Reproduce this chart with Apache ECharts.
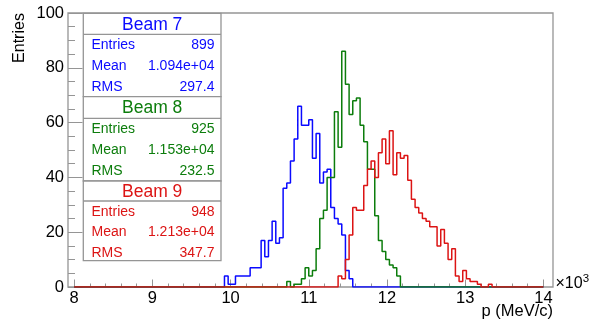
<!DOCTYPE html>
<html>
<head>
<meta charset="utf-8">
<script src="https://cdn.jsdelivr.net/npm/echarts@6/dist/echarts.min.js"></script>
<style>
  html, body { margin: 0; padding: 0; background: #ffffff; }
  #chart { width: 595px; height: 325px; }
</style>
</head>
<body>
<div id="chart"></div>
<script>
// Momentum spectra of three beams, 128 bins of 46.875 MeV/c between 8 and 14 (x10^3 MeV/c)
const BIN_LO = 8.0;
const BIN_WIDTH = 0.046875;
const N_BINS = 128;

// bin contents, starting at the given bin index
const beam7FirstBin = 41;
const beam7Counts = [4, 1, 1, 4, 4, 4, 4, 7, 7, 7, 17, 11, 17, 24, 16, 18, 36, 38, 46, 54,
                     66, 59, 59, 61, 47, 56, 38, 42, 43, 29, 25, 23, 19, 6, 3];
const beam8FirstBin = 58;
const beam8Counts = [2, 0, 1, 1, 3, 7, 4, 6, 14, 25, 28, 40, 40, 64, 51, 86, 74, 63, 68, 69,
                     59, 53, 43, 43, 26, 17, 13, 10, 8, 7, 4];
const beam9FirstBin = 72;
const beam9Counts = [4, 3, 10, 19, 29, 28, 28, 37, 43, 46, 40, 49, 54, 45, 57, 41, 49, 47, 48, 39,
                     32, 29, 27, 25, 24, 22, 22, 15, 21, 16, 10, 14, 4, 2, 6, 3, 2, 2, 1, 0, 0, 1];

// statistics boxes
const beamNames = ['Beam 7', 'Beam 8', 'Beam 9'];
const statLabels = ['Entries', 'Mean', 'RMS'];
const entriesText = ['899', '925', '948'];
const meanText = ['1.094e+04', '1.153e+04', '1.213e+04'];
const rmsText = ['297.4', '232.5', '347.7'];

// axis ticks
const xMajorTicks = [8, 9, 10, 11, 12, 13, 14];
const xMinorTicks = [8.2, 8.4, 8.6, 8.8, 9.2, 9.4, 9.6, 9.8, 10.2, 10.4, 10.6, 10.8,
                     11.2, 11.4, 11.6, 11.8, 12.2, 12.4, 12.6, 12.8, 13.2, 13.4, 13.6, 13.8];
const X_MIN = 7.921;
const X_MAX = 14.123;

const COLORS = ['#0a0aff', '#0c7d0c', '#dc1414'];
const FRAME = '#959595';
const FONT = '"Liberation Sans", Arial, Helvetica, sans-serif';

function histPoints(firstBin, counts) {
  const pts = [];
  for (let i = 0; i < N_BINS; i++) {
    const k = i - firstBin;
    const c = (k >= 0 && k < counts.length) ? counts[k] : 0;
    pts.push([BIN_LO + i * BIN_WIDTH, c]);
  }
  pts.push([BIN_LO + N_BINS * BIN_WIDTH, 0]);
  return pts;
}

const hists = [
  histPoints(beam7FirstBin, beam7Counts),
  histPoints(beam8FirstBin, beam8Counts),
  histPoints(beam9FirstBin, beam9Counts)
];

// stat boxes layout
const boxLeft = 83.3, boxRight = 221;
const boxTops = [13.3, 96.7, 181];
const boxBottoms = [96.7, 181, 260.7];
const headerLines = [34.3, 118.3, 201];

const graphics = [];
for (let b = 0; b < 3; b++) {
  const top = boxTops[b], bottom = boxBottoms[b], hl = headerLines[b];
  graphics.push({
    type: 'rect', z: 100,
    shape: { x: boxLeft, y: top, width: boxRight - boxLeft, height: bottom - top },
    style: { fill: '#ffffff', stroke: FRAME, lineWidth: 1.3 }
  });
  graphics.push({
    type: 'line', z: 101,
    shape: { x1: boxLeft, y1: hl, x2: boxRight, y2: hl },
    style: { stroke: FRAME, lineWidth: 1.3 }
  });
  graphics.push({
    type: 'text', z: 102, x: (boxLeft + boxRight) / 2, y: (top + hl) / 2 + 1,
    style: { text: beamNames[b], fill: COLORS[b], font: '17.5px ' + FONT, align: 'center', verticalAlign: 'middle' }
  });
  const values = [entriesText[b], meanText[b], rmsText[b]];
  for (let r = 0; r < 3; r++) {
    const y = hl + 10.7 + r * 20.9;
    graphics.push({
      type: 'text', z: 102, x: 91.5, y: y,
      style: { text: statLabels[r], fill: COLORS[b], font: '14px ' + FONT, align: 'left', verticalAlign: 'middle' }
    });
    graphics.push({
      type: 'text', z: 102, x: 214.5, y: y,
      style: { text: values[r], fill: COLORS[b], font: '14px ' + FONT, align: 'right', verticalAlign: 'middle' }
    });
  }
}

// axis titles and exponent
graphics.push({
  type: 'text', z: 102, x: 20, y: 38, rotation: Math.PI / 2,
  style: { text: 'Entries', fill: '#000', font: '16px ' + FONT, align: 'center', verticalAlign: 'middle' }
});
graphics.push({
  type: 'text', z: 102, x: 553, y: 311,
  style: { text: 'p (MeV/c)', fill: '#000', font: '16.5px ' + FONT, align: 'right', verticalAlign: 'middle' }
});
graphics.push({
  type: 'text', z: 102, x: 555.5, y: 284,
  style: {
    text: '×10{sup|3}', fill: '#000', font: '16px ' + FONT, align: 'left', verticalAlign: 'middle',
    rich: { sup: { fontSize: 11.5, fontFamily: FONT, fill: '#000', verticalAlign: 'top', padding: [0, 0, 10, 0] } }
  }
});

const chart = echarts.init(document.getElementById('chart'), null, { renderer: 'canvas' });
chart.setOption({
  animation: false,
  backgroundColor: '#ffffff',
  grid: {
    left: 68, right: 42, top: 13, bottom: 38,
    show: true, borderColor: FRAME, borderWidth: 1.3, backgroundColor: 'transparent'
  },
  xAxis: [
    {
      type: 'value', min: X_MIN, max: X_MAX, position: 'bottom',
      axisLine: { show: false }, splitLine: { show: false },
      axisTick: { show: true, inside: true, length: 7.5, customValues: xMajorTicks, lineStyle: { color: FRAME, width: 1 } },
      axisLabel: { show: true, customValues: xMajorTicks, margin: 3, fontSize: 16.5, color: '#000', fontFamily: FONT,
                   formatter: v => String(Math.round(v)) }
    },
    {
      type: 'value', min: X_MIN, max: X_MAX, position: 'bottom',
      axisLine: { show: false }, splitLine: { show: false }, axisLabel: { show: false },
      axisTick: { show: true, inside: true, length: 3.5, customValues: xMinorTicks, lineStyle: { color: FRAME, width: 1 } }
    }
  ],
  yAxis: {
    type: 'value', min: 0, max: 100, interval: 20,
    axisLine: { show: false }, splitLine: { show: false },
    axisTick: { show: true, inside: true, length: 14.5, lineStyle: { color: FRAME, width: 1 } },
    minorTick: { show: true, splitNumber: 4, length: 7, lineStyle: { color: FRAME, width: 1 } },
    minorSplitLine: { show: false },
    axisLabel: { margin: 4, fontSize: 16.5, color: '#000', fontFamily: FONT }
  },
  series: hists.map((pts, i) => ({
    type: 'line', name: beamNames[i], data: pts, step: 'end', xAxisIndex: 0,
    showSymbol: false, symbol: 'none',
    lineStyle: { color: COLORS[i], width: 1.5 },
    itemStyle: { color: COLORS[i] },
    emphasis: { disabled: true }
  })),
  graphic: graphics
});
</script>
</body>
</html>
